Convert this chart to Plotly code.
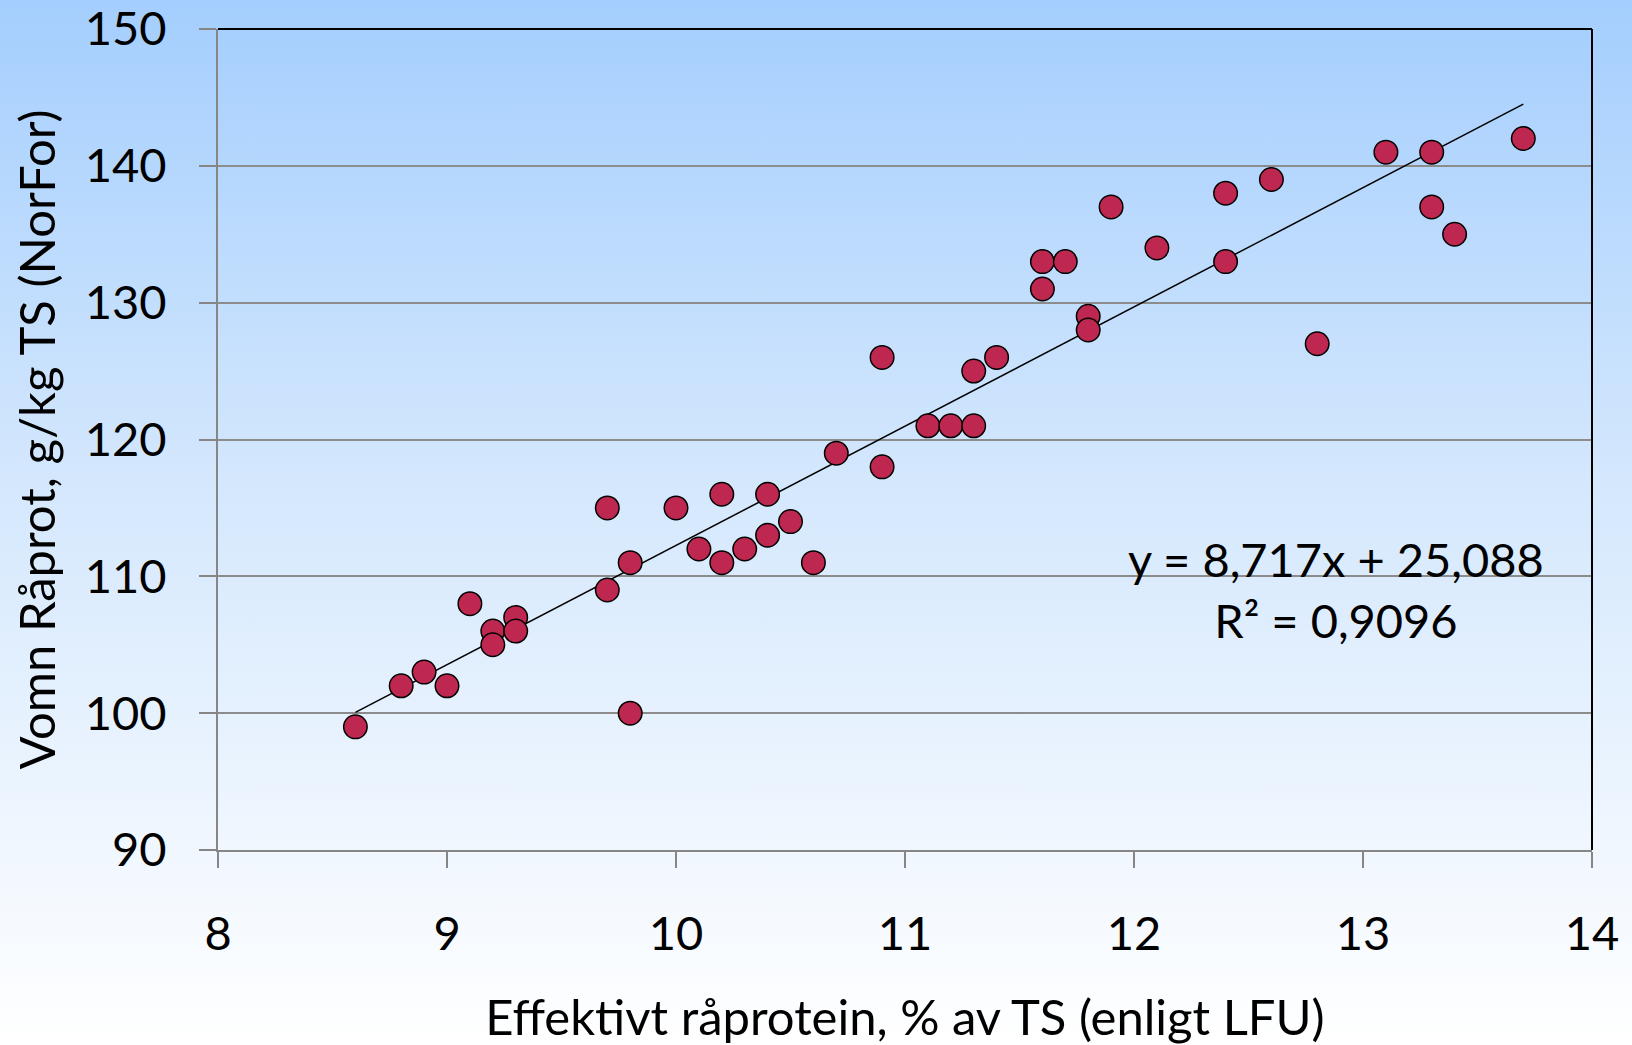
import plotly.graph_objects as go
import urllib.parse

# ---- data ----
effektivt_raprotein = [8.6, 8.8, 8.9, 9.0, 9.1, 9.2, 9.2, 9.3, 9.3, 9.7, 9.7, 9.8, 9.8,
                       10.0, 10.1, 10.2, 10.2, 10.3, 10.4, 10.4, 10.5, 10.6, 10.7,
                       10.9, 10.9, 11.1, 11.2, 11.3, 11.3, 11.4, 11.6, 11.6, 11.7,
                       11.8, 11.8, 11.9, 12.1, 12.4, 12.4, 12.6, 12.8, 13.1, 13.3,
                       13.3, 13.4, 13.7]
vomn_raprot = [99, 102, 103, 102, 108, 106, 105, 107, 106, 115, 109, 111, 100,
               115, 112, 116, 111, 112, 116, 113, 114, 111, 119,
               126, 118, 121, 121, 125, 121, 126, 133, 131, 133,
               129, 128, 137, 134, 138, 133, 139, 127, 141, 141,
               137, 135, 142]
slope = 8.717
intercept = 25.088
r_squared = "0,9096"
trend_x = [min(effektivt_raprotein), max(effektivt_raprotein)]
trend_y = [slope * v + intercept for v in trend_x]

x_ticks = [8, 9, 10, 11, 12, 13, 14]
y_ticks = [90, 100, 110, 120, 130, 140, 150]
x_title = "Effektivt råprotein, % av TS (enligt LFU)"
y_title = "Vomn Råprot, g/kg TS (NorFor)"

FONT = "Lato, 'Open Sans', sans-serif"

fig = go.Figure()
fig.add_trace(go.Scatter(
    x=trend_x, y=trend_y, mode="lines",
    line=dict(color="black", width=1.5), hoverinfo="skip", showlegend=False))
fig.add_trace(go.Scatter(
    x=effektivt_raprotein, y=vomn_raprot, mode="markers",
    marker=dict(size=23.5, color="#BE2850", line=dict(color="black", width=1.5)),
    showlegend=False))

# gradient background as inline SVG
svg = ('<svg xmlns="http://www.w3.org/2000/svg" width="100" height="100" preserveAspectRatio="none">'
       '<defs><linearGradient id="g" x1="0" y1="0" x2="0" y2="1">'
       '<stop offset="0" stop-color="#A4CEFE"/>'
       '<stop offset="0.45" stop-color="#D3E7FD"/>'
       '<stop offset="1" stop-color="#FFFFFF"/>'
       '</linearGradient></defs><rect width="100" height="100" fill="url(#g)"/></svg>')
src = "data:image/svg+xml;charset=utf-8," + urllib.parse.quote(svg)

W, H = 1632, 1045
ml, mr, mt, mb = 218, 40, 29, 195
pw, ph = W - ml - mr, H - mt - mb

fig.add_layout_image(dict(
    source=src, xref="paper", yref="paper",
    x=-ml / pw, y=1 + mt / ph, sizex=W / pw, sizey=H / ph,
    sizing="stretch", layer="below", xanchor="left", yanchor="top"))

# black top and right border
fig.add_shape(type="line", xref="paper", yref="paper", x0=0, x1=1, y0=1, y1=1,
              line=dict(color="black", width=2), layer="above")
fig.add_shape(type="line", xref="paper", yref="paper", x0=1, x1=1, y0=0, y1=1,
              line=dict(color="black", width=2), layer="above")

fig.add_annotation(
    x=12.88, y=109.05, xref="x", yref="y",
    text=f"y = {str(slope).replace('.', ',')}x + {str(intercept).replace('.', ',')}<br>R² = {r_squared}",
    showarrow=False, align="center", yanchor="middle",
    font=dict(family=FONT, size=47, color="black"))

fig.update_layout(
    width=W, height=H,
    margin=dict(l=ml, r=mr, t=mt, b=mb, autoexpand=False),
    paper_bgcolor="rgba(0,0,0,0)", plot_bgcolor="rgba(0,0,0,0)",
    font=dict(family=FONT, color="black"),
    xaxis=dict(range=[8, 14], tickvals=x_ticks,
               showgrid=False, zeroline=False, automargin=False,
               ticklabeloverflow="allow",
               showline=True, linecolor="#868686", linewidth=2,
               ticks="outside", ticklen=16, tickwidth=2, tickcolor="#868686",
               tickfont=dict(size=47), ticklabelstandoff=26,
               title=dict(text=x_title, font=dict(size=49), standoff=45)),
    yaxis=dict(range=[90, 150], tickvals=y_ticks,
               showgrid=True, gridcolor="#8C8C8C", gridwidth=2, zeroline=False,
               automargin=False, ticklabeloverflow="allow",
               showline=True, linecolor="#868686", linewidth=2,
               ticks="outside", ticklen=17, tickwidth=2, tickcolor="#868686",
               tickfont=dict(size=47), ticklabelstandoff=23,
               title=dict(text=y_title, font=dict(size=49), standoff=14)),
)

fig.write_html("out.html")
